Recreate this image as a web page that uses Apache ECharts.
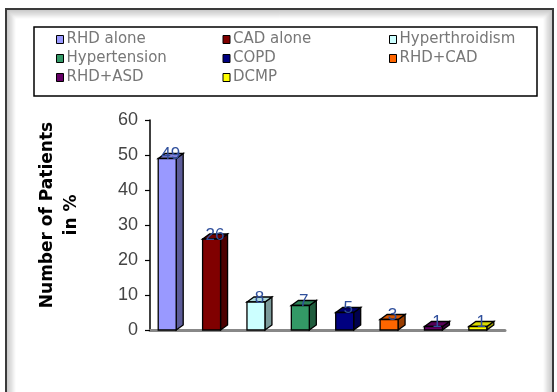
<!DOCTYPE html>
<html>
<head>
<meta charset="utf-8">
<script src="https://cdn.jsdelivr.net/npm/echarts@6/dist/echarts.min.js"></script>
<style>
  html, body { margin: 0; padding: 0; background: #fff; }
  #chart { width: 557px; height: 392px; }
</style>
</head>
<body>
<div id="chart"></div>
<script>
// Diagnosis groups and their share of patients (%)
const categories = ['RHD alone', 'CAD alone', 'Hyperthroidism', 'Hypertension', 'COPD', 'RHD+CAD', 'RHD+ASD', 'DCMP'];
const values = [49, 26, 8, 7, 5, 3, 1, 1];
const colors = ['#9999ff', '#800000', '#ccffff', '#339966', '#000080', '#ff6600', '#660066', '#ffff00'];
const yTicks = { min: 0, max: 60, interval: 10 };

const chart = echarts.init(document.getElementById('chart'), null, { renderer: 'canvas' });

// Scales a colour's RGB channels towards black
function shade(color, factor) {
  const c = echarts.color.parse(color);
  return 'rgb(' + [0, 1, 2].map(i => Math.round(c[i] * factor)).join(',') + ')';
}

// Draws one box-shaped bar: front face, right side and top face, plus its value label
function renderBox(params, api) {
  const idx = api.value(0);
  const val = api.value(1);
  const top = api.coord([idx, val]);
  const base = api.coord([idx, 0]);
  const band = api.size([1, 0])[0];
  const fw = band * 0.405;
  const dx = band * 0.158;
  const dy = 5;
  const x0 = top[0] - band * 0.315;
  const yT = top[1];
  const yB = base[1];
  const color = api.visual('color');
  const side = shade(color, 0.6);
  const lid = shade(color, 0.85);
  const edge = { stroke: '#000', lineWidth: 1.3 };
  return {
    type: 'group',
    children: [
      {
        type: 'polygon',
        shape: { points: [[x0 + fw, yT], [x0 + fw + dx, yT - dy], [x0 + fw + dx, yB - dy], [x0 + fw, yB]] },
        style: Object.assign({ fill: side }, edge)
      },
      {
        type: 'polygon',
        shape: { points: [[x0, yT], [x0 + fw, yT], [x0 + fw + dx, yT - dy], [x0 + dx, yT - dy]] },
        style: Object.assign({ fill: lid }, edge)
      },
      {
        type: 'rect',
        shape: { x: x0, y: yT, width: fw, height: yB - yT },
        style: Object.assign({ fill: color }, edge)
      },
      {
        type: 'text',
        x: x0 + (fw + dx) / 2,
        y: yT - 4,
        style: {
          text: String(val),
          fill: '#2f4f9c',
          font: '17px "Liberation Sans", sans-serif',
          align: 'center',
          verticalAlign: 'middle',
          textShadowColor: 'rgba(214,120,40,0.85)',
          textShadowOffsetX: -1,
          textShadowOffsetY: 0,
          textShadowBlur: 0
        }
      }
    ]
  };
}

const series = categories.map((name, i) => ({
  name: name,
  type: 'custom',
  renderItem: renderBox,
  itemStyle: { color: colors[i] },
  encode: { x: 0, y: 1 },
  data: [[i, values[i]]]
}));

// Framed panel with a soft inner shadow
const frame = [];
for (let k = 1; k <= 9; k++) {
  frame.push({
    type: 'rect',
    silent: true,
    shape: { x: 6 + k, y: 9 + k, width: 547 - 2 * k, height: 420 - 2 * k },
    style: { fill: null, stroke: 'rgba(0,0,0,' + (0.25 * (1 - k / 10)).toFixed(3) + ')', lineWidth: 1 }
  });
}
frame.push({
  type: 'rect',
  silent: true,
  shape: { x: 6, y: 9, width: 547, height: 420 },
  style: { fill: null, stroke: '#3a3a3a', lineWidth: 2 }
});
frame.push({
  type: 'rect',
  silent: true,
  shape: { x: 34, y: 27, width: 503, height: 69 },
  style: { fill: null, stroke: '#000', lineWidth: 1.5 }
});

chart.setOption({
  animation: false,
  backgroundColor: '#fff',
  graphic: frame,
  legend: {
    left: 51,
    top: 27,
    width: 520,
    orient: 'horizontal',
    icon: 'rect',
    itemWidth: 7,
    itemHeight: 8,
    itemGap: 4,
    itemStyle: { borderColor: '#000', borderWidth: 1 },
    textStyle: {
      width: 152,
      overflow: 'truncate',
      fontFamily: '"DejaVu Sans", sans-serif',
      fontSize: 15,
      lineHeight: 15,
      color: '#777',
      padding: [0, 0, 0, -2]
    },
    data: categories
  },
  grid: {
    left: 150,
    right: 52,
    top: 120,
    bottom: 62,
    containLabel: false,
    outerBoundsMode: 'none'
  },
  xAxis: {
    type: 'category',
    data: categories,
    boundaryGap: true,
    axisLabel: { show: false },
    axisTick: { show: false },
    axisLine: { lineStyle: { color: '#888', width: 3 } },
    splitLine: { show: false }
  },
  yAxis: {
    type: 'value',
    min: yTicks.min,
    max: yTicks.max,
    interval: yTicks.interval,
    name: 'Number of Patients\nin %',
    nameLocation: 'middle',
    nameGap: 66,
    nameRotate: 90,
    nameTextStyle: {
      fontFamily: '"DejaVu Sans", sans-serif',
      fontSize: 17,
      fontWeight: 'bold',
      color: '#000',
      lineHeight: 24,
      padding: [0, 0, 0, 20]
    },
    axisLine: { show: true, lineStyle: { color: '#000', width: 1.5 } },
    axisTick: { show: true, inside: false, length: 5, lineStyle: { color: '#000', width: 1.2 } },
    axisLabel: {
      margin: 12,
      fontFamily: '"Liberation Sans", sans-serif',
      fontSize: 18,
      color: '#444'
    },
    splitLine: { show: false }
  },
  series: series
});
</script>
</body>
</html>
